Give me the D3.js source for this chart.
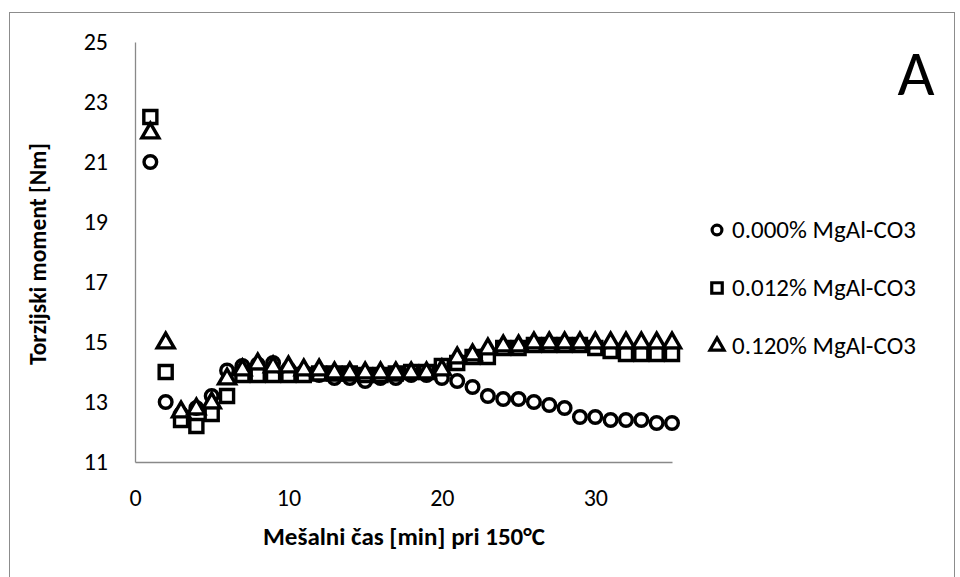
<!DOCTYPE html>
<html>
<head>
<meta charset="utf-8">
<script src="https://cdn.jsdelivr.net/npm/d3@7"></script>
<style>
  body { margin: 0; background: #fff; }
  svg { display: block; font-family: Carlito, Lato, "Liberation Sans", Arial, sans-serif; }
</style>
</head>
<body>
<svg id="chart" width="960" height="577"></svg>
<script>
'use strict';

// Data
const minutes = d3.range(1, 36);
const seriesNames = ['0.000% MgAl-CO3', '0.012% MgAl-CO3', '0.120% MgAl-CO3'];
const torque000 = [21.0, 13.0, 12.6, 12.8, 13.2, 14.05, 14.2, 14.25, 14.3, 14.1,
    14.0, 13.9, 13.8, 13.8, 13.7, 13.8, 13.8, 13.9, 13.9, 13.8,
    13.7, 13.5, 13.2, 13.1, 13.1, 13.0, 12.9, 12.8, 12.5, 12.5,
    12.4, 12.4, 12.4, 12.3, 12.3];
const torque012 = [22.5, 14.0, 12.4, 12.2, 12.6, 13.2, 13.9, 13.9, 13.9, 13.9,
    13.9, 13.95, 13.95, 13.95, 13.9, 13.9, 13.95, 14.0, 14.0, 14.2,
    14.3, 14.5, 14.5, 14.8, 14.8, 14.9, 14.9, 14.9, 14.9, 14.8,
    14.7, 14.6, 14.6, 14.6, 14.6];
const torque120 = [22.0, 15.0, 12.7, 12.8, 13.0, 13.8, 14.1, 14.3, 14.2, 14.2,
    14.1, 14.1, 14.0, 14.0, 14.0, 14.0, 14.0, 14.0, 14.0, 14.1,
    14.5, 14.6, 14.8, 14.9, 14.9, 15.0, 15.0, 15.0, 15.0, 15.0,
    15.0, 15.0, 15.0, 15.0, 15.0];
const xTicks = [0, 10, 20, 30];
const yTicks = [11, 13, 15, 17, 19, 21, 23, 25];

const svg = d3.select('#chart');

// outer frame (bottom edge falls outside the picture)
svg.append('rect')
    .attr('x', 9.5).attr('y', 12.5)
    .attr('width', 945).attr('height', 600)
    .attr('fill', 'none').attr('stroke', '#8c8c8c').attr('stroke-width', 1);

const x = d3.scaleLinear().domain([0, 35]).range([135, 672]);
const y = d3.scaleLinear().domain([11, 25]).range([462, 42]);

// axes
const xAxis = svg.append('g')
    .attr('transform', `translate(0,${y(11)})`)
    .call(d3.axisBottom(x).tickValues(xTicks).tickSize(0).tickPadding(27));
const yAxis = svg.append('g')
    .attr('transform', `translate(${x(0)},0)`)
    .call(d3.axisLeft(y).tickValues(yTicks).tickSize(0).tickPadding(27));
[xAxis, yAxis].forEach(g => {
    g.select('.domain').attr('stroke', '#898989').attr('stroke-width', 1.3);
    g.selectAll('text').attr('font-size', 24).attr('fill', '#000')
        .attr('font-family', 'Carlito, Lato, "Liberation Sans", Arial, sans-serif');
});

// axis titles
svg.append('text')
    .attr('x', 404).attr('y', 545)
    .attr('text-anchor', 'middle')
    .attr('font-size', 25).attr('font-weight', 'bold')
    .text('Mešalni čas [min] pri 150°C');
svg.append('text')
    .attr('transform', 'translate(46,254) rotate(-90)')
    .attr('text-anchor', 'middle')
    .attr('font-size', 23.5).attr('font-weight', 'bold')
    .text('Torzijski moment [Nm]');

// panel letter
svg.append('text')
    .attr('x', 916).attr('y', 95)
    .attr('text-anchor', 'middle')
    .attr('font-size', 64)
    .text('A');

const symbols = [d3.symbolCircle, d3.symbolSquare, d3.symbolTriangle];
const symSizes = [125, 170, 125];
const allSeries = [torque000, torque012, torque120];

allSeries.forEach((vals, s) => {
    const sym = d3.symbol().type(symbols[s]).size(symSizes[s]);
    svg.append('g')
        .selectAll('path')
        .data(vals)
        .join('path')
        .attr('d', sym)
        .attr('transform', (v, i) => `translate(${x(minutes[i])},${y(v) + (s === 2 ? 1 : 0)})`)
        .attr('fill', '#fff')
        .attr('stroke', '#000')
        .attr('stroke-width', 3.4);
});

// legend
const legend = svg.append('g');
seriesNames.forEach((name, s) => {
    const ly = 230 + s * 58;
    legend.append('path')
        .attr('d', d3.symbol().type(symbols[s]).size([75, 110, 85][s]))
        .attr('transform', `translate(717,${ly})`)
        .attr('fill', '#fff').attr('stroke', '#000').attr('stroke-width', 3.2);
    legend.append('text')
        .attr('x', 732).attr('y', ly + 8)
        .attr('font-size', 25)
        .text(name);
});
</script>
</body>
</html>
